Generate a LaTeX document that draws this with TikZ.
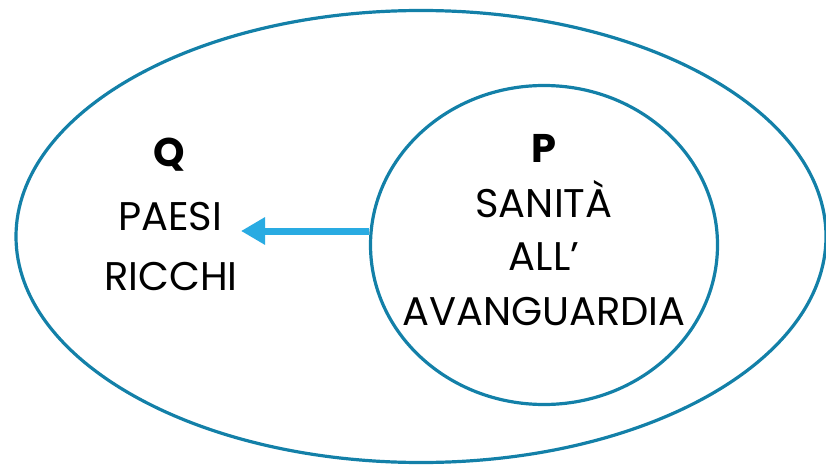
\documentclass[tikz,border=0pt]{standalone}
\usepackage{fontspec}
\setmainfont{Poppins}
\usetikzlibrary{arrows.meta,shapes.geometric}
\definecolor{ringblue}{HTML}{1380A8}
\definecolor{arrowblue}{HTML}{29ABE2}
\begin{document}
\begin{tikzpicture}[x=1pt,y=-1pt,
  ring/.style={draw=ringblue,line width=3.2pt},
  lbl/.style={anchor=base,inner sep=0pt,font=\fontsize{40}{46}\selectfont},
  head/.style={anchor=base,inner sep=0pt,font=\fontsize{40}{46}\selectfont\bfseries},
  link/.style={draw=arrowblue,line width=7pt,-{Triangle[length=24pt,width=26pt]}}]
\useasboundingbox (0,0) rectangle (826,465);
\node[ring,ellipse,minimum width=810pt,minimum height=452pt,inner sep=0pt] (outer) at (421,236.5) {};
\node[ring,ellipse,minimum width=347pt,minimum height=319pt,inner sep=0pt] (inner) at (544,245) {};
\node[head] (q) at (169,167) {Q};
\node[lbl] (paesi) at (170,230) {PAESI};
\node[lbl] (ricchi) at (171,290) {RICCHI};
\node[head] (p) at (544,162) {P};
\node[lbl] (sanita) at (544,217) {SANITÀ};
\node[lbl] (all) at (544,270) {ALL’};
\node[lbl] (avan) at (544,325) {AVANGUARDIA};
\coordinate (tip) at (241,231);
\draw[link] (inner.west |- tip) -- (tip);
\end{tikzpicture}
\end{document}
